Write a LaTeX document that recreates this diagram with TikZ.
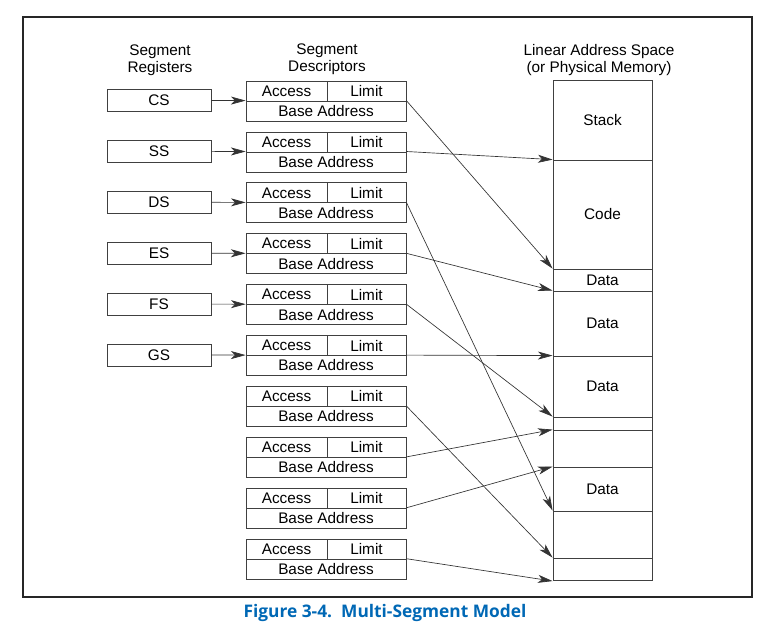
\documentclass[tikz,border=0pt]{standalone}
\usepackage{fontspec}
\setmainfont{Liberation Sans}
\newfontfamily\capfont{Open Sans}
\usetikzlibrary{arrows.meta}
\definecolor{capblue}{HTML}{0068B5}

\begin{document}
\begin{tikzpicture}[x=0.75pt,y=-0.75pt,
  every node/.style={font=\fontsize{11.5}{12.5}\selectfont},
  box/.style={draw=black!75,line width=0.6pt,inner sep=0pt,minimum height=15pt},
  arr/.style={-{Stealth[length=11pt,width=6pt,inset=3pt]},line width=0.5pt,black!80}]
\useasboundingbox (0,0) rectangle (765,626);
\draw[line width=0.9pt,black!85] (23,17) rectangle (752,597);
% headings
\node[align=center] (hreg) at (160,60) {Segment\\Registers};
\node[align=center] (hdesc) at (327,59) {Segment\\Descriptors};
\node[align=center] (hmem) at (599,60) {Linear Address Space\\(or Physical Memory)};
% descriptors
\foreach \i in {1,...,10}{
  \pgfmathsetmacro\t{81+50.9*(\i-1)}
  \node[box,minimum width=60.75pt] (acc\i) at (286.5,\t+10) {Access};
  \node[box,minimum width=59.25pt] (lim\i) at (366.5,\t+10) {Limit};
  \node[box,minimum width=120pt] (base\i) at (326,\t+30) {Base Address};
}
% segment registers
\foreach \r [count=\i] in {CS,SS,DS,ES,FS,GS}{
  \pgfmathsetmacro\t{81+50.9*(\i-1)}
  \node[box,minimum width=78pt,minimum height=16.5pt] (reg\i) at (159,\t+19.5) {\r};
  \draw[arr] (reg\i.east) -- (base\i.north west);
}
% linear address space
\node[box,minimum width=74.25pt,minimum height=59.5pt] (r1) at (602.5,120.35) {Stack};
\node[box,minimum width=74.25pt,minimum height=81.75pt] (r2) at (602.5,214.5) {Code};
\node[box,minimum width=74.25pt,minimum height=16.5pt] (r3) at (602.5,280) {Data};
\node[box,minimum width=74.25pt,minimum height=48.75pt] (r4) at (602.5,323.5) {Data};
\node[box,minimum width=74.25pt,minimum height=45.75pt] (r5) at (602.5,386.5) {Data};
\node[box,minimum width=74.25pt,minimum height=9.75pt] (r6) at (602.5,423.5) {};
\node[box,minimum width=74.25pt,minimum height=27.75pt] (r7) at (602.5,448.5) {};
\node[box,minimum width=74.25pt,minimum height=33pt] (r8) at (602.5,489) {Data};
\node[box,minimum width=74.25pt,minimum height=35.25pt] (r9) at (602.5,534.5) {};
\node[box,minimum width=74.25pt,minimum height=17pt] (r10) at (602.5,569.35) {};
% base addresses
\draw[arr] (base1.north east) -- (r3.north west);
\draw[arr] (base2.north east) -- (r2.north west);
\draw[arr] (base3.north east) -- (r9.north west);
\draw[arr] (base4.north east) -- (r4.north west);
\draw[arr] (base5.north east) -- (r6.north west);
\draw[arr] (base6.north east) -- (r5.north west);
\draw[arr] (base7.north east) -- (r10.north west);
\draw[arr] (base8.north east) -- (r7.north west);
\draw[arr] (base9.north east) -- (r8.north west);
\draw[arr] (base10.north east) -- (r10.south west);
% caption
\node[font=\capfont\bfseries\fontsize{13}{15}\selectfont,text=capblue] (cap) at (385,613) {Figure 3-4.\ \ Multi-Segment Model};
\end{tikzpicture}
\end{document}
